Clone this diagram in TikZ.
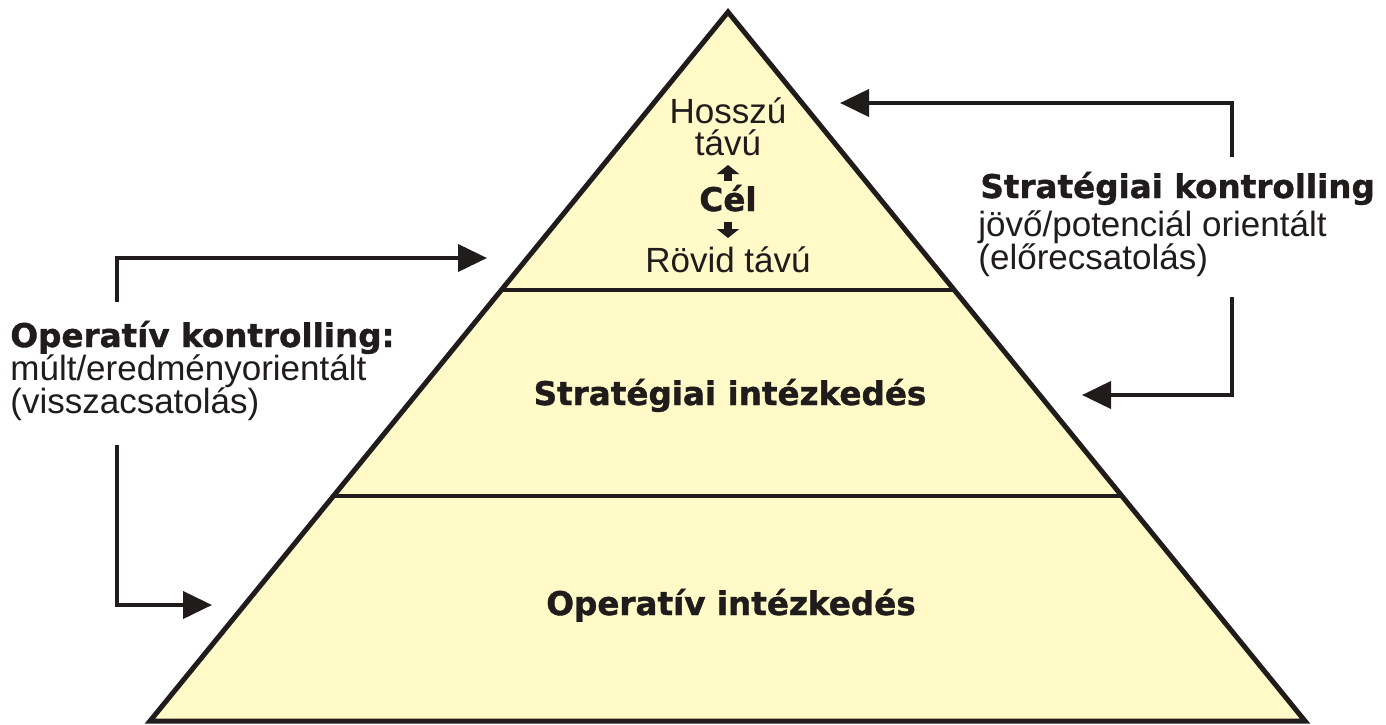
\documentclass[tikz,border=0pt]{standalone}
\usepackage{fontspec}
\setmainfont{Liberation Sans}
\newfontfamily\heavyfont{DejaVu Sans}[BoldFeatures={FakeBold=1.2}]
\usetikzlibrary{arrows.meta,calc}
\definecolor{pyrfill}{RGB}{255,250,200}
\definecolor{inkcolor}{RGB}{32,28,28}

\begin{document}
\begin{tikzpicture}[
    x=0.5pt,y=-0.5pt,
    every node/.style={inner sep=0pt,text=inkcolor},
    plain/.style={font=\fontsize{17.5}{21}\selectfont},
    pyrtext/.style={font=\fontsize{17.5}{20}\selectfont},
    heading/.style={font=\heavyfont\bfseries\fontsize{16.3}{20}\selectfont},
    outline/.style={draw=inkcolor,line width=2.5pt,line join=miter},
    divider/.style={draw=inkcolor,line width=2pt},
    feedback/.style={draw=inkcolor,line width=2pt,line join=miter,
                     -{Triangle[length=14.5pt,width=13.5pt]}},
    tinyarrow/.style={draw=inkcolor,line width=4pt,
                      -{Triangle[length=4.5pt,width=11pt]}}
]
\useasboundingbox (0,0) rectangle (1386,724);

% pyramid
\coordinate (apex) at (728,12);
\coordinate (bl) at (150,721);
\coordinate (br) at (1305,721);
\fill[pyrfill] (apex) -- (bl) -- (br) -- cycle;
\draw[divider] ($(apex)!0.3927!(bl)$) -- ($(apex)!0.3927!(br)$);
\draw[divider] ($(apex)!0.6822!(bl)$) -- ($(apex)!0.6822!(br)$);
\draw[outline] (apex) -- (bl) -- (br) -- cycle;

% top level
\node[pyrtext,anchor=base] (hosszu) at (728,123) {Hosszú};
\node[pyrtext,anchor=base] (tavu) at (728,155) {távú};
\node[heading,anchor=base] (cel) at (728,211) {Cél};
\node[pyrtext,anchor=base] (rovid) at (728,272) {Rövid távú};
\coordinate (upfrom) at (728,181);
\coordinate (upto) at (728,165);
\coordinate (downfrom) at (728,222);
\coordinate (downto) at (728,238);
\draw[tinyarrow] (upfrom) -- (upto);
\draw[tinyarrow] (downfrom) -- (downto);

% middle and bottom levels
\node[heading,anchor=base] (stmeasure) at (730,405) {Stratégiai intézkedés};
\node[heading,anchor=base] (opmeasure) at (731,615) {Operatív intézkedés};

% left labels
\node[heading,anchor=base west] (opctrl) at (10,347) {Operatív kontrolling:};
\node[plain,anchor=base west] (opdesc) at (10,380) {múlt/eredményorientált};
\node[plain,anchor=base west] (opnote) at (10,413) {(visszacsatolás)};

% right labels
\node[heading,anchor=base west] (stctrl) at (980,198) {Stratégiai kontrolling};
\node[plain,anchor=base west] (stdesc) at (978,236) {jövő/potenciál orientált};
\node[plain,anchor=base west] (stnote) at (978,269) {(előrecsatolás)};

% feedback arrows
\coordinate (opfrom1) at (117,302);
\coordinate (opto1) at (487,258);
\coordinate (opfrom2) at (117,445);
\coordinate (opto2) at (212,605);
\coordinate (stfrom1) at (1232,157);
\coordinate (stto1) at (840,103);
\coordinate (stfrom2) at (1232,297);
\coordinate (stto2) at (1082,395);
\draw[feedback] (opfrom1) |- (opto1);
\draw[feedback] (opfrom2) |- (opto2);
\draw[feedback] (stfrom1) |- (stto1);
\draw[feedback] (stfrom2) |- (stto2);
\end{tikzpicture}
\end{document}
